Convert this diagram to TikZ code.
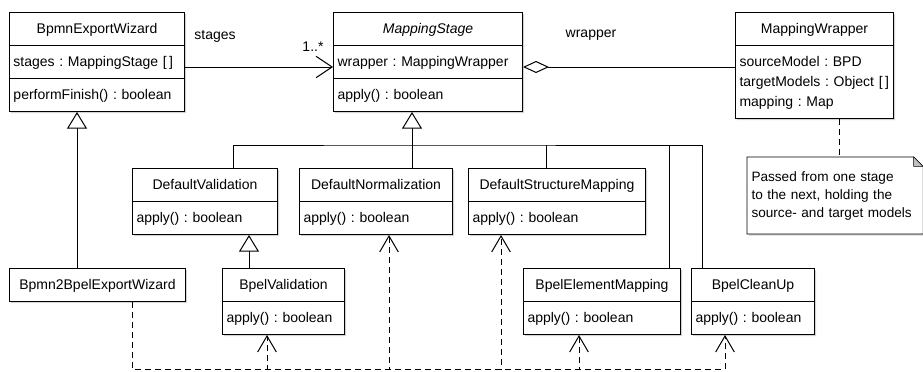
\documentclass[tikz,border=0pt]{standalone}
\usepackage{fontspec}
\setmainfont{Liberation Sans}
\usetikzlibrary{shapes.multipart,arrows.meta,shadows,backgrounds}
\frenchspacing

\newcommand{\classname}[1]{\makebox[\linewidth]{\strut #1}}

\tikzset{
  classbox/.style={rectangle split, rectangle split parts=#1, draw, fill=white,
    anchor=north west, inner xsep=3pt, inner ysep=4.5pt, line width=0.75pt,
    font=\fontsize{10.5}{15}\selectfont,
    drop shadow={shadow xshift=1.2pt, shadow yshift=-1.2pt, opacity=.35}},
  notetext/.style={anchor=north west, inner sep=3pt, text width=125.25pt,
    minimum height=57pt, align=left, font=\fontsize{10.2}{13.5}\selectfont},
  lbl/.style={font=\fontsize{10.5}{12}\selectfont, inner sep=1pt},
  gen/.style={line width=0.75pt, -{Triangle[length=12.5pt, width=15pt, fill=white]}},
  nav/.style={line width=0.75pt, -{Straight Barb[length=12pt, width=16pt]}},
  agg/.style={line width=0.75pt, {Diamond[length=19.5pt, width=9pt, fill=white]}-},
  dep/.style={line width=0.75pt, dash pattern=on 4.5pt off 3pt, -{Straight Barb[length=12pt, width=14pt]}}
}

\begin{document}
\begin{tikzpicture}[x=0.75pt, y=-0.75pt, line width=0.75pt]
\useasboundingbox (0,0) rectangle (923,371);

% top row
\node[classbox=3, text width=125.25pt] (bew) at (9,12)
  {\classname{BpmnExportWizard}
   \nodepart{two}\strut stages : MappingStage [\,]
   \nodepart{three}\strut performFinish() : boolean};
\node[classbox=3, text width=135.75pt] (ms) at (333,12)
  {\classname{\textit{MappingStage}}
   \nodepart{two}\strut wrapper : MappingWrapper
   \nodepart{three}\strut apply() : boolean};
\node[classbox=2, text width=112.5pt] (mw) at (735,12)
  {\classname{MappingWrapper}
   \nodepart{two}\strut sourceModel : BPD\\\strut targetModels : Object [\,]\\\strut mapping : Map};

% middle row
\node[classbox=2, text width=102.75pt] (dv) at (132,168)
  {\classname{DefaultValidation}
   \nodepart{two}\strut apply() : boolean};
\node[classbox=2, text width=108.75pt] (dn) at (299,168)
  {\classname{DefaultNormalization}
   \nodepart{two}\strut apply() : boolean};
\node[classbox=2, text width=126.75pt] (dsm) at (468,168)
  {\classname{DefaultStructureMapping}
   \nodepart{two}\strut apply() : boolean};

% bottom row
\node[classbox=1, text width=126pt] (bbew) at (9,268)
  {\classname{Bpmn2BpelExportWizard}};
\node[classbox=2, text width=85.5pt] (bv) at (222,268)
  {\classname{BpelValidation}
   \nodepart{two}\strut apply() : boolean};
\node[classbox=2, text width=111.75pt] (bem) at (523,268)
  {\classname{BpelElementMapping}
   \nodepart{two}\strut apply() : boolean};
\node[classbox=2, text width=86.25pt] (bcu) at (691,268)
  {\classname{BpelCleanUp}
   \nodepart{two}\strut apply() : boolean};

% note
\node[notetext] (note) at (747,157)
  {Passed from one stage\\to the next, holding the\\source- and target models};
\begin{scope}[on background layer]
\draw[fill=white, drop shadow={shadow xshift=1.2pt, shadow yshift=-1.2pt, opacity=.35}]
  (note.north west) -- ([xshift=-7pt]note.north east) -- ([yshift=-7pt]note.north east)
  -- (note.south east) -- (note.south west) -- cycle;
\draw[fill=black!25] ([xshift=-7pt]note.north east) -- ([yshift=-7pt]note.north east)
  -- ([xshift=-7pt, yshift=-7pt]note.north east) -- cycle;
\end{scope}
\draw[dash pattern=on 4.5pt off 3pt] (mw.south -| 839,0) -- (note.north -| 839,0);

% associations
\node[lbl] (stagesl) at (215,36) {stages};
\node[lbl] (multl) at (313,47) {1..*};
\node[lbl] (wrapl) at (591,35) {wrapper};
\draw[nav] (bew.east |- 0,67) -- (ms.west |- 0,67);
\draw[agg] (ms.east |- 0,67) -- (mw.west |- 0,67);

% generalizations
\coordinate (tree) at (412,145);
\draw[gen] (bbew.north -| 77,0) -- (bew.south -| 77,0);
\draw[gen] (bv.north -| 249,0) -- (dv.south -| 249,0);
\draw[gen] (tree) -- (ms.south -| tree);
\draw (dv.north -| 233,0) |- (tree) -| (bcu.north -| 702,0);
\draw (dn.north -| tree) -- (tree);
\draw (dsm.north -| 546,0) -- (tree -| 546,0);
\draw (bem.north -| 669,0) -- (tree -| 669,0);

% dependencies
\coordinate (bus) at (132,369);
\draw[dep] (bbew.south -| bus) -- (bus) -| (bv.south -| 267,0);
\draw[dep] (bbew.south -| bus) -- (bus) -| (dn.south -| 389,0);
\draw[dep] (bbew.south -| bus) -- (bus) -| (dsm.south -| 501,0);
\draw[dep] (bbew.south -| bus) -- (bus) -| (bem.south -| 579,0);
\draw[dep] (bbew.south -| bus) -- (bus) -| (bcu.south -| 725,0);
\end{tikzpicture}
\end{document}
